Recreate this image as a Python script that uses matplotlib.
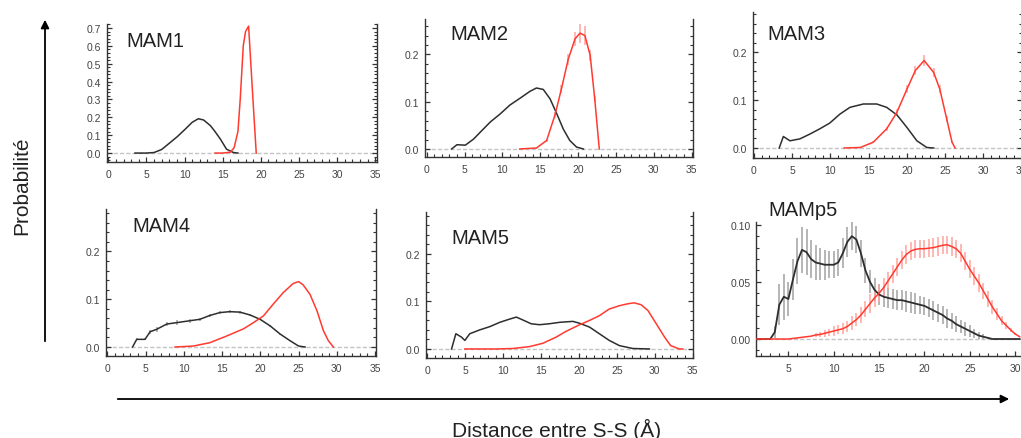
import matplotlib
matplotlib.use("Agg")
import matplotlib.pyplot as plt
from matplotlib.ticker import MultipleLocator, FormatStrFormatter
from matplotlib.patches import FancyArrowPatch

# --- données (distance S-S en Å, probabilité) ---
panel_names = ["MAM1", "MAM2", "MAM3", "MAM4", "MAM5", "MAMp5"]

m1_black_x = [3.5, 5.0, 6.0, 7.0, 8.0, 9.0, 10.0, 11.0, 11.8, 12.5, 13.4, 14.0, 14.7, 15.5, 16.4, 17.0]
m1_black_y = [0.0, 0.0, 0.003, 0.02, 0.055, 0.09, 0.13, 0.172, 0.192, 0.185, 0.153, 0.12, 0.078, 0.022, 0.003, 0.0]
m1_red_x = [14.0, 15.0, 16.0, 16.5, 17.0, 17.3, 17.7, 18.0, 18.4, 18.9, 19.4]
m1_red_y = [0.0, 0.0, 0.005, 0.03, 0.12, 0.3, 0.6, 0.68, 0.71, 0.35, 0.0]

m2_black_x = [3.3, 4.0, 5.1, 6.2, 7.05, 8.4, 9.7, 11.0, 12.3, 13.65, 14.5, 15.4, 16.3, 17.2, 18.05, 18.9, 19.8, 20.7]
m2_black_y = [0.0, 0.009, 0.008, 0.021, 0.035, 0.057, 0.074, 0.093, 0.107, 0.122, 0.129, 0.126, 0.106, 0.074, 0.042, 0.018, 0.004, 0.0]
m2_red_x = [12.3, 14.5, 15.85, 16.95, 17.8, 18.7, 19.6, 20.25, 20.9, 21.6, 22.2, 22.8]
m2_red_y = [0.0, 0.002, 0.018, 0.072, 0.127, 0.19, 0.233, 0.245, 0.24, 0.198, 0.106, 0.0]
m2_red_err = [0.0, 0.001, 0.003, 0.006, 0.008, 0.012, 0.015, 0.02, 0.02, 0.012, 0.006, 0.0]

m3_black_x = [3.3, 3.84, 4.7, 6.0, 7.3, 8.6, 9.9, 11.25, 12.55, 14.3, 16.05, 17.35, 18.7, 20.0, 21.3, 22.6, 23.5]
m3_black_y = [0.0, 0.024, 0.015, 0.019, 0.029, 0.040, 0.052, 0.071, 0.085, 0.092, 0.092, 0.085, 0.069, 0.043, 0.015, 0.001, 0.0]
m3_red_x = [11.8, 13.9, 15.6, 17.35, 18.7, 20.0, 21.1, 22.25, 23.5, 24.3, 25.2, 25.9, 26.3]
m3_red_y = [0.0, 0.001, 0.012, 0.04, 0.075, 0.123, 0.162, 0.183, 0.158, 0.123, 0.061, 0.012, 0.0]
m3_red_err = [0.0, 0.0, 0.002, 0.004, 0.006, 0.008, 0.01, 0.012, 0.01, 0.008, 0.006, 0.002, 0.0]

m4_black_x = [3.3, 3.84, 4.93, 5.6, 6.45, 7.76, 9.07, 10.8, 12.1, 13.4, 14.7, 16.0, 17.35, 18.66, 19.97, 21.3, 22.6, 23.9, 25.0, 25.85]
m4_black_y = [0.0, 0.016, 0.016, 0.032, 0.037, 0.048, 0.051, 0.055, 0.058, 0.066, 0.072, 0.074, 0.073, 0.067, 0.058, 0.044, 0.027, 0.013, 0.002, 0.0]
m4_black_err = [0.0, 0.002, 0.002, 0.004, 0.005, 0.005, 0.005, 0.004, 0.003, 0.003, 0.003, 0.003, 0.003, 0.002, 0.002, 0.002, 0.001, 0.001, 0.0, 0.0]
m4_red_x = [8.85, 11.25, 13.4, 15.6, 17.8, 19.1, 20.4, 21.7, 23.0, 24.3, 25.0, 25.6, 26.5, 27.4, 28.25, 28.9, 29.55]
m4_red_y = [0.0, 0.002, 0.009, 0.023, 0.038, 0.051, 0.065, 0.09, 0.114, 0.133, 0.137, 0.13, 0.11, 0.076, 0.034, 0.013, 0.0]

m5_black_x = [3.2, 3.77, 4.5, 4.96, 5.6, 6.9, 8.25, 9.56, 10.9, 11.75, 12.6, 13.7, 14.8, 16.1, 17.45, 19.2, 20.1, 21.4, 22.7, 24.0, 25.35, 27.1, 29.3]
m5_black_y = [0.0, 0.032, 0.025, 0.018, 0.032, 0.040, 0.047, 0.056, 0.063, 0.067, 0.061, 0.053, 0.051, 0.053, 0.056, 0.058, 0.054, 0.046, 0.032, 0.018, 0.007, 0.001, 0.0]
m5_red_x = [4.96, 9.1, 11.3, 13.5, 15.25, 17.0, 18.3, 20.1, 21.4, 22.7, 24.0, 25.35, 26.45, 27.3, 28.2, 29.1, 30.2, 31.3, 32.1, 33.25, 33.7]
m5_red_y = [0.0, 0.0, 0.001, 0.005, 0.012, 0.025, 0.037, 0.051, 0.060, 0.070, 0.084, 0.091, 0.095, 0.097, 0.093, 0.081, 0.053, 0.025, 0.007, 0.0, 0.0]

p5_x = [1.5, 2.0, 2.5, 3.0, 3.5, 4.0, 4.5, 5.0, 5.5, 6.0, 6.5, 7.0, 7.5, 8.0, 8.5,
        9.0, 9.5, 10.0, 10.5, 11.0, 11.5, 12.0, 12.5, 13.0, 13.5, 14.0, 14.5, 15.0,
        15.5, 16.0, 16.5, 17.0, 17.5, 18.0, 18.5, 19.0, 19.5, 20.0, 20.5, 21.0, 21.5,
        22.0, 22.5, 23.0, 23.5, 24.0, 24.5, 25.0, 25.5, 26.0, 26.5, 27.0, 27.5, 28.0,
        28.5, 29.0, 29.5, 30.0, 30.5]
p5_black_y = [0.0, 0.0, 0.0, 0.0, 0.006, 0.03, 0.037, 0.035, 0.052, 0.068, 0.078, 0.076, 0.07, 0.067, 0.066,
              0.065, 0.065, 0.065, 0.067, 0.075, 0.085, 0.09, 0.087, 0.075, 0.06, 0.05, 0.043, 0.039,
              0.037, 0.036, 0.035, 0.034, 0.034, 0.033, 0.032, 0.031, 0.030, 0.029, 0.027, 0.025, 0.023,
              0.021, 0.018, 0.016, 0.013, 0.011, 0.009, 0.007, 0.005, 0.003, 0.002, 0.001, 0.0, 0.0,
              0.0, 0.0, 0.0, 0.0, 0.0]
p5_black_err = [0.0, 0.0, 0.0, 0.0, 0.005, 0.018, 0.02, 0.015, 0.018, 0.02, 0.02, 0.02, 0.017, 0.015, 0.014,
                0.013, 0.012, 0.012, 0.012, 0.013, 0.013, 0.012, 0.012, 0.012, 0.011, 0.01, 0.01, 0.009,
                0.009, 0.009, 0.009, 0.009, 0.009, 0.009, 0.009, 0.009, 0.008, 0.008, 0.008, 0.008, 0.008,
                0.008, 0.008, 0.007, 0.007, 0.006, 0.006, 0.005, 0.004, 0.003, 0.002, 0.001, 0.0, 0.0,
                0.0, 0.0, 0.0, 0.0, 0.0]
p5_red_y = [0.0, 0.0, 0.0, 0.0, 0.0, 0.0, 0.0, 0.0, 0.0005, 0.001, 0.0015, 0.002, 0.0025, 0.0035, 0.004,
            0.005, 0.006, 0.007, 0.008, 0.009, 0.011, 0.014, 0.017, 0.021, 0.026, 0.031, 0.036, 0.040,
            0.045, 0.051, 0.057, 0.063, 0.069, 0.074, 0.077, 0.0785, 0.079, 0.079, 0.0795, 0.080, 0.081,
            0.082, 0.0825, 0.081, 0.079, 0.075, 0.068, 0.061, 0.055, 0.049, 0.042, 0.035, 0.028, 0.022,
            0.016, 0.012, 0.008, 0.0045, 0.002]
p5_red_err = [0.0, 0.0, 0.0, 0.0, 0.0, 0.0, 0.0, 0.0, 0.0, 0.0, 0.0, 0.0, 0.0, 0.002, 0.002,
              0.003, 0.003, 0.004, 0.004, 0.005, 0.005, 0.006, 0.006, 0.007, 0.007, 0.008, 0.008, 0.008,
              0.008, 0.008, 0.008, 0.008, 0.008, 0.008, 0.008, 0.008, 0.008, 0.008, 0.008, 0.008, 0.008,
              0.008, 0.008, 0.008, 0.008, 0.008, 0.008, 0.008, 0.008, 0.008, 0.007, 0.007, 0.006, 0.005,
              0.004, 0.003, 0.002, 0.001, 0.0]

y_label = "Probabilité"
x_label = "Distance entre S-S (Å)"

# --- mise en page (pixels de l'image d'origine) ---
W, H = 1021, 439
plt.rcParams["font.family"] = ["Liberation Sans", "DejaVu Sans"]

BLACK = "#2e2e2e"
RED = "#ff3a30"
BLACK_ERR = "#9c9c9c"
RED_ERR = "#ff9f9a"

fig = plt.figure(figsize=(W / 100, H / 100), dpi=100)


def make_ax(l, t, r, b, xlim, ylim, ymajor, yminor, yfmt, right=True):
    ax = fig.add_axes([l / W, 1 - b / H, (r - l) / W, (b - t) / H])
    ax.set_xlim(*xlim)
    ax.set_ylim(*ylim)
    ax.spines["top"].set_visible(False)
    ax.spines["right"].set_visible(right)
    for s in ax.spines.values():
        s.set_color("#333333")
        s.set_linewidth(1.0)
    ax.xaxis.set_major_locator(MultipleLocator(5))
    ax.xaxis.set_minor_locator(MultipleLocator(1))
    ax.yaxis.set_major_locator(MultipleLocator(ymajor))
    ax.yaxis.set_minor_locator(MultipleLocator(yminor))
    ax.yaxis.set_major_formatter(FormatStrFormatter(yfmt))
    ax.tick_params(which="both", direction="in", top=False, right=right,
                   color="#333333", labelcolor="#444444", labelsize=7.5)
    ax.tick_params(which="major", length=3.5, width=0.9)
    ax.tick_params(which="minor", length=2, width=0.8)
    ax.tick_params(axis="y", pad=4)
    ax.tick_params(axis="x", pad=5)
    ax.axhline(0, color="#c4c4c4", lw=1.0, ls=(0, (3, 1.5)), zorder=1)
    return ax


def draw(ax, x, y, color, err=None, err_color=None, lw=1.1):
    if err is not None:
        ax.errorbar(x, y, yerr=err, fmt="none", ecolor=err_color, elinewidth=1.3,
                    alpha=0.8, zorder=2)
    ax.plot(x, y, color=color, lw=lw, zorder=3)


ax1 = make_ax(106.7, 25, 376.7, 163, (-0.21, 35.2), (-0.050, 0.722), 0.1, 0.02, "%.1f")
draw(ax1, m1_black_x, m1_black_y, BLACK)
draw(ax1, m1_red_x, m1_red_y, RED)

ax2 = make_ax(425, 20, 693, 158, (-0.22, 35.18), (-0.017, 0.275), 0.1, 0.02, "%.1f")
draw(ax2, m2_black_x, m2_black_y, BLACK)
draw(ax2, m2_red_x, m2_red_y, RED, m2_red_err, RED_ERR)

ax3 = make_ax(753, 13, 1022, 159, (-0.13, 35.05), (-0.021, 0.2845), 0.1, 0.02, "%.1f")
draw(ax3, m3_black_x, m3_black_y, BLACK)
draw(ax3, m3_red_x, m3_red_y, RED, m3_red_err, RED_ERR)

ax4 = make_ax(105.7, 210, 376, 357.3, (-0.21, 35.12), (-0.0195, 0.289), 0.1, 0.02, "%.1f")
draw(ax4, m4_black_x, m4_black_y, BLACK, m4_black_err, BLACK_ERR)
draw(ax4, m4_red_x, m4_red_y, RED)

ax5 = make_ax(425.7, 213, 693, 359, (-0.21, 35.05), (-0.019, 0.288), 0.1, 0.02, "%.1f")
draw(ax5, m5_black_x, m5_black_y, BLACK)
draw(ax5, m5_red_x, m5_red_y, RED)

ax6 = make_ax(756, 223, 1024, 356.7, (1.43, 30.98), (-0.0146, 0.1024), 0.05, 0.01, "%.2f", right=False)
draw(ax6, p5_x, p5_black_y, BLACK, p5_black_err, BLACK_ERR, lw=1.3)
draw(ax6, p5_x, p5_red_y, RED, p5_red_err, RED_ERR)

# titres des panneaux
title_pos = [(126.7, 46.7), (450, 40), (767.7, 40), (132.7, 232.3), (451.7, 244), (768.3, 215.7)]
for name, (px, py) in zip(panel_names, title_pos):
    fig.text(px / W, 1 - py / H, name, fontsize=14.5, color="#222222", ha="left", va="baseline")

# flèches et étiquettes d'axes communes
fig.add_artist(FancyArrowPatch((45 / W, 1 - 345 / H), (45 / W, 1 - 18 / H),
                               transform=fig.transFigure, arrowstyle="-|>",
                               mutation_scale=12, lw=1.3, color="black"))
fig.add_artist(FancyArrowPatch((115 / W, 1 - 400 / H), (1012 / W, 1 - 400 / H),
                               transform=fig.transFigure, arrowstyle="-|>",
                               mutation_scale=12, lw=1.3, color="black"))
fig.text(22 / W, 1 - 186 / H, y_label, rotation=90, fontsize=15, color="#222222",
         ha="center", va="center")
fig.text(557 / W, 1 - 436.7 / H, x_label, fontsize=15, color="#222222",
         ha="center", va="baseline")

fig.savefig("out.png", dpi=100)
